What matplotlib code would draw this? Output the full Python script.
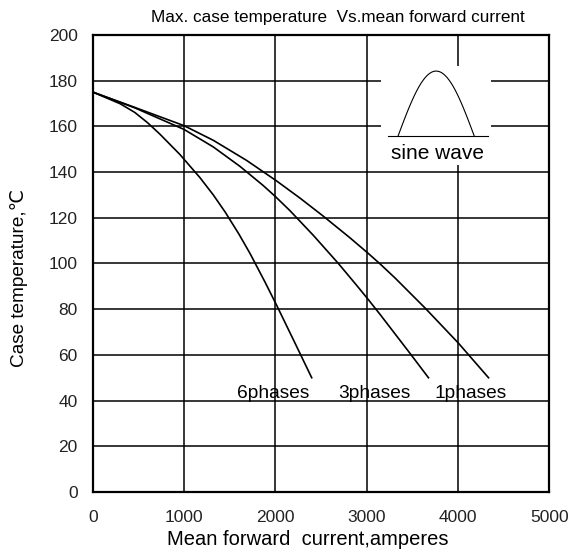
import numpy as np
import matplotlib
matplotlib.use("Agg")
import matplotlib.pyplot as plt
from matplotlib.patches import Rectangle

plt.rcParams['font.family'] = ['Liberation Sans', 'DejaVu Sans']

# curves
one_phase_x = [0, 460, 1000, 1320, 1685, 2014, 2270, 2525, 2818, 3012, 3147,
               3311, 3640, 4006, 4335]
one_phase_y = [175, 168.3, 160.3, 153.9, 145.1, 136.1, 128.6, 120.7, 111.2, 104.6, 99.8,
               93.65, 80.5, 65.1, 50]

three_phase_x = [0, 460, 1000, 1320, 1612, 1867, 2000, 2160, 2416, 2690, 2891,
                 3012, 3147, 3476, 3677]
three_phase_y = [175, 168.1, 158.65, 151.0, 142.5, 134.1, 129.3, 123.1, 112.3, 100.0, 90.4,
                 84.5, 77.7, 60.6, 50]

six_phase_x = [0, 300, 460, 600, 735, 954, 1173, 1320, 1450, 1600, 1722, 1886,
               2014, 2200, 2398]
six_phase_y = [175, 169.9, 166.1, 161.6, 156.6, 147.7, 137.6, 130.0, 122.5, 112.9, 104.4, 91.9,
               81.7, 66.4, 50]

curve_labels = ['6phases', '3phases', '1phases']
label_x = [1974, 3081, 4134]
label_y = [43, 43, 43]

x_ticks = [0, 1000, 2000, 3000, 4000, 5000]
y_ticks = list(range(0, 201, 20))

fig = plt.figure(figsize=(5.8, 5.55), dpi=100)
ax = fig.add_axes([0.160, 0.1135, 0.787, 0.8235])

ax.set_xlim(0, 5000)
ax.set_ylim(0, 200)
ax.set_xticks(x_ticks)
ax.set_yticks(y_ticks)
ax.tick_params(length=0, labelsize=12.5, colors='#222222')
ax.tick_params(axis='x', pad=13)
ax.tick_params(axis='y', pad=11)
ax.grid(True, color='black', linewidth=1.1)
ax.set_axisbelow(True)
for s in ax.spines.values():
    s.set_linewidth(1.6)

ax.plot(one_phase_x, one_phase_y, color='black', lw=1.2)
ax.plot(three_phase_x, three_phase_y, color='black', lw=1.2)
ax.plot(six_phase_x, six_phase_y, color='black', lw=1.2)

for t, x, y in zip(curve_labels, label_x, label_y):
    ax.text(x, y, t, ha='center', va='center', fontsize=13.8)

# sine wave icon
ax.add_patch(Rectangle((3158, 143), 1206, 43.4, facecolor='white',
                       edgecolor='none', zorder=1.5))
ax.plot([3235, 4331], [155.8, 155.8], color='black', lw=0.8, zorder=2)
t = np.linspace(0, np.pi, 60)
ax.plot(3344 + (4178 - 3344) * t / np.pi, 155.8 + 28.4 * np.sin(t),
        color='black', lw=0.8, zorder=2)
ax.text(3772, 148, 'sine wave', ha='center', va='center', fontsize=15, zorder=2)

ax.text(0.537, 1.039, 'Max. case temperature  Vs.mean forward current',
        transform=ax.transAxes, ha='center', va='center', fontsize=12.3)
ax.set_xlabel('Mean forward  current,amperes', fontsize=14.5)
ax.xaxis.set_label_coords(0.471, -0.083)
ax.set_ylabel('Case temperature,\u2103', fontsize=13.7)
ax.yaxis.set_label_coords(-0.143, 0.468)

fig.savefig('out.png', dpi=100)
